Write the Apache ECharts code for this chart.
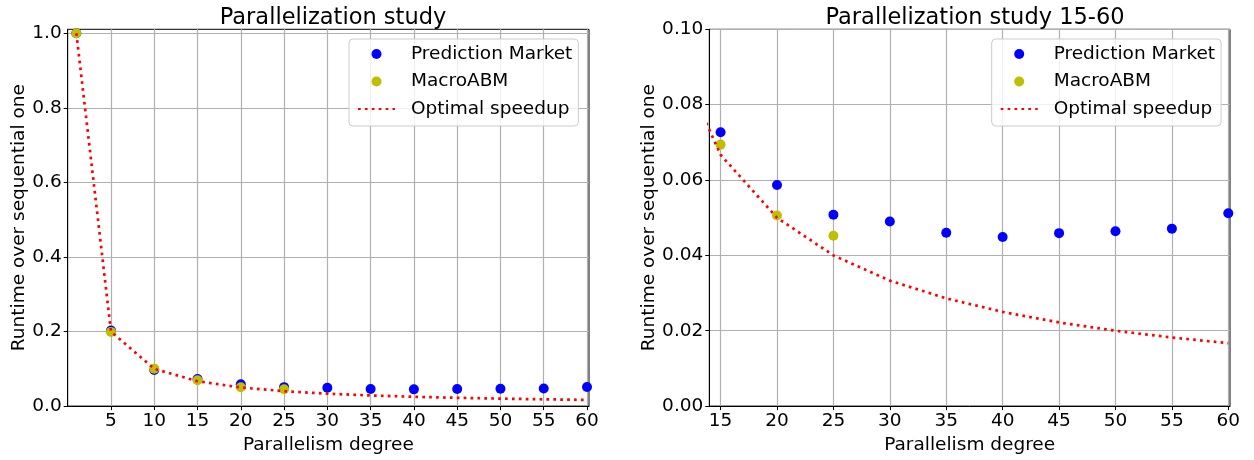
<!DOCTYPE html>
<html>
<head>
<meta charset="utf-8">
<script src="https://cdn.jsdelivr.net/npm/echarts@6/dist/echarts.min.js"></script>
<style>
html,body{margin:0;padding:0;background:#fff;}
#c{width:1254px;height:460px;}
</style>
</head>
<body>
<div id="c"></div>
<script>
// ---- data ----
var degrees = [1, 5, 10, 15, 20, 25, 30, 35, 40, 45, 50, 55, 60];
var predictionMarket = [1.0, 0.203, 0.097, 0.0727, 0.0587, 0.0508, 0.0490, 0.0460, 0.0449, 0.0459, 0.0464, 0.0471, 0.0512];
var macroDegrees = [1, 5, 10, 15, 20, 25];
var macroABM = [1.0, 0.199, 0.1005, 0.0694, 0.0506, 0.0452];
var optimalSpeedup = [1.0, 0.2, 0.1, 0.0667, 0.05, 0.04, 0.0333, 0.0286, 0.025, 0.0222, 0.02, 0.0182, 0.0167];
var leftXTicks = [5, 10, 15, 20, 25, 30, 35, 40, 45, 50, 55, 60];
var rightXTicks = [15, 20, 25, 30, 35, 40, 45, 50, 55, 60];
var leftYTicks = [0, 0.2, 0.4, 0.6, 0.8, 1.0];
var rightYTicks = [0, 0.02, 0.04, 0.06, 0.08, 0.10];
var titles = ['Parallelization study', 'Parallelization study 15-60'];
var xName = 'Parallelism degree';
var yName = 'Runtime over sequential one';
var names = ['Prediction Market', 'MacroABM', 'Optimal speedup'];

function zip(xs, ys) { return xs.map(function (x, i) { return [x, ys[i]]; }); }

var FONT = 'DejaVu Sans';
var FS = 18.5;
var BLUE = '#0000ff', YEL = '#bfbf00', RED = '#ff0000';

function xAxis(idx, min, max, ticks) {
  return {
    type: 'value', gridIndex: idx, min: min, max: max,
    name: xName, nameLocation: 'middle', nameGap: 27,
    nameTextStyle: { fontFamily: FONT, fontSize: FS, color: '#000' },
    axisLine: { show: true, onZero: false, lineStyle: { color: '#000', width: 1 } },
    axisTick: { show: true, length: 4, lineStyle: { color: '#000' }, customValues: ticks },
    axisLabel: { customValues: ticks, fontFamily: FONT, fontSize: FS, color: '#000', margin: 6 },
    splitLine: { show: true, lineStyle: { color: '#b0b0b0', width: 1.2 } }
  };
}
function yAxis(idx, min, max, ticks, digits, gap) {
  return {
    type: 'value', gridIndex: idx, min: min, max: max,
    name: yName, nameLocation: 'middle', nameGap: gap, nameRotate: 90,
    nameTextStyle: { fontFamily: FONT, fontSize: FS, color: '#000' },
    axisLine: { show: true, onZero: false, lineStyle: { color: '#000', width: 1 } },
    axisTick: { show: true, length: 4, lineStyle: { color: '#000' }, customValues: ticks },
    axisLabel: { customValues: ticks, fontFamily: FONT, fontSize: FS, color: '#000', margin: 6,
      formatter: function (v) { return v.toFixed(digits); } },
    splitLine: { show: true, lineStyle: { color: '#b0b0b0', width: 1.2 } }
  };
}
function legend(left) {
  return {
    left: left, top: 39, orient: 'vertical',
    data: [
      { name: names[0] },
      { name: names[1] },
      { name: names[2], itemStyle: { opacity: 0, color: 'rgba(0,0,0,0)', borderWidth: 0 } }
    ],
    itemWidth: 37, itemHeight: 10, itemGap: 8.5,
    padding: [5.5, 6, 7.5, 8],
    backgroundColor: 'rgba(255,255,255,0.8)',
    borderColor: '#cccccc', borderWidth: 1, borderRadius: 4,
    textStyle: { fontFamily: FONT, fontSize: FS, color: '#000', padding: [0, 0, 0, 11] },
    selectedMode: false
  };
}
function seriesFor(idx) {
  return [
    { name: names[0], type: 'scatter', xAxisIndex: idx, yAxisIndex: idx, data: zip(degrees, predictionMarket),
      symbolSize: 10, itemStyle: { color: BLUE, opacity: 1 }, clip: true, silent: true },
    { name: names[1], type: 'scatter', xAxisIndex: idx, yAxisIndex: idx, data: zip(macroDegrees, macroABM),
      symbolSize: 10, itemStyle: { color: YEL, opacity: 1 }, clip: true, silent: true },
    { name: names[2], type: 'line', xAxisIndex: idx, yAxisIndex: idx, data: zip(degrees, optimalSpeedup),
      symbol: 'none', showSymbol: false, clip: true, silent: true,
      lineStyle: { color: RED, width: 2.7, type: [2.7, 4.2], cap: 'butt' }, itemStyle: { color: RED } }
  ];
}

var chart = echarts.init(document.getElementById('c'), null, { renderer: 'canvas' });
chart.setOption({
  animation: false,
  backgroundColor: '#fff',
  title: [
    { text: titles[0], left: 328, top: 2, textAlign: 'center',
      textStyle: { fontFamily: FONT, fontSize: 22.5, fontWeight: 'normal', color: '#000' } },
    { text: titles[1], left: 970, top: 2, textAlign: 'center',
      textStyle: { fontFamily: FONT, fontSize: 22.5, fontWeight: 'normal', color: '#000' } }
  ],
  legend: [legend(349), legend(991.7)],
  grid: [
    { left: 67.7, top: 29.3, width: 521.3, height: 380.2, show: true, borderColor: '#000', borderWidth: 1, containLabel: false },
    { left: 709.3, top: 29.3, width: 520.7, height: 380.2, show: true, borderColor: '#000', borderWidth: 1, containLabel: false }
  ],
  xAxis: [xAxis(0, 0, 60.23, leftXTicks), xAxis(1, 14, 60.15, rightXTicks)],
  yAxis: [yAxis(0, 0, 1.0106, leftYTicks, 1, 39), yAxis(1, 0, 0.1, rightYTicks, 2, 50.5)],
  series: seriesFor(0).concat(seriesFor(1))
});
</script>
</body>
</html>
